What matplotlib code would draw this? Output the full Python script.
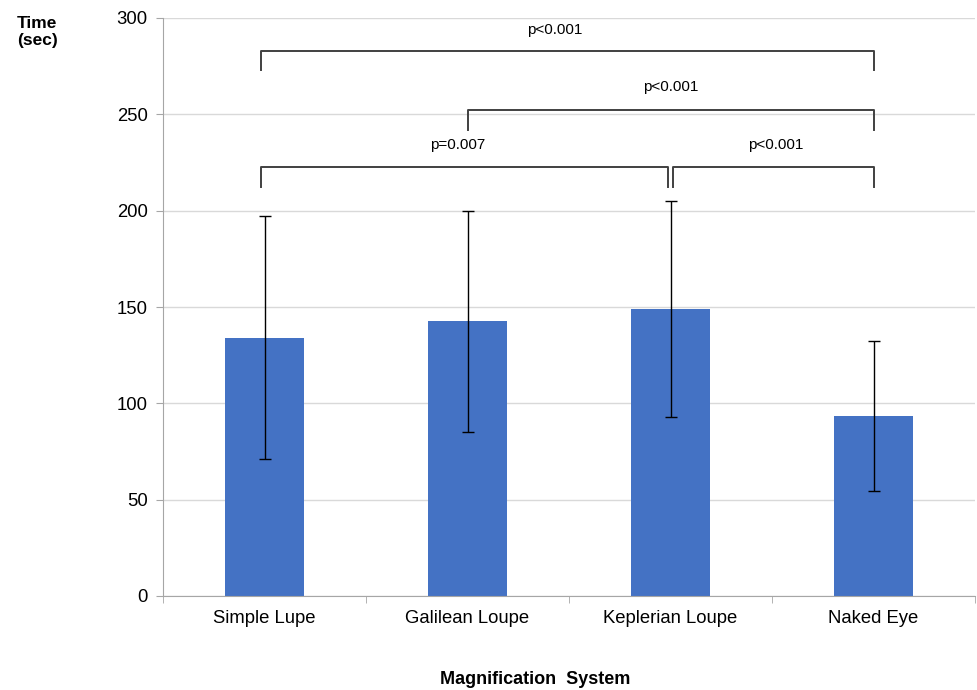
import matplotlib.pyplot as plt
import numpy as np

plt.rcParams['font.family'] = ['Liberation Sans', 'DejaVu Sans']

categorias = ["Simple Lupe", "Galilean Loupe", "Keplerian Loupe", "Naked Eye"]
media = [134, 142.5, 149, 93.5]
desvio = [63, 57.5, 56, 39]

# comparacoes: (grupo a, grupo b, nivel, texto)
comp_a = [0, 1, 0, 2]
comp_b = [3, 3, 2, 3]
comp_y = [283, 252, 222.5, 222.5]
comp_txt = ["p<0.001", "p<0.001", "p=0.007", "p<0.001"]

fig = plt.figure(figsize=(9.77, 6.90), dpi=100)
ax = fig.add_axes([163/977, 94/690, 812/977, 578/690])

x = np.arange(len(categorias))
ax.bar(x, media, width=0.39, color='#4472C4', zorder=2)
ax.errorbar(x, media, yerr=desvio, fmt='none', ecolor='black', elinewidth=1,
            capsize=4, capthick=1, zorder=3)

ax.set_xlim(-0.5, 3.5)
ax.set_ylim(0, 300)
ax.set_yticks(np.arange(0, 301, 50))
ax.yaxis.grid(True, color='#d9d9d9', linewidth=1, zorder=0)
ax.set_axisbelow(True)

ax.set_xticks(x)
ax.set_xticklabels(categorias, fontsize=13.3)
ax.set_xticks(np.arange(-0.5, 4, 1), minor=True)
ax.tick_params(axis='x', which='major', length=0, pad=10)
ax.tick_params(axis='x', which='minor', length=5, color='#a6a6a6')
ax.tick_params(axis='y', length=5, color='#a6a6a6', labelsize=13.3, pad=6)

for s in ['top', 'right']:
    ax.spines[s].set_visible(False)
for s in ['left', 'bottom']:
    ax.spines[s].set_color('#a6a6a6')

off = 0.01
for a, b, yy, t in zip(comp_a, comp_b, comp_y, comp_txt):
    xa = a - 0.015 if a == 0 else a
    xb = b
    if a == 2:
        xa = a + off
    if a == 0 and b == 2:
        xb = b - off
    ax.plot([xa, xa, xb, xb], [yy - 10, yy, yy, yy - 10], color='#404040',
            linewidth=1.4, zorder=4, solid_joinstyle='round')

ax.text(1.43, 294, comp_txt[0], ha='center', va='center', fontsize=11)
ax.text(2.0, 264, comp_txt[1], ha='center', va='center', fontsize=11)
ax.text(0.95, 234, comp_txt[2], ha='center', va='center', fontsize=11)
ax.text(2.52, 234, comp_txt[3], ha='center', va='center', fontsize=11)

fig.text(440/977, 1 - 679/690, "Magnification  System", ha='left', va='center',
         fontsize=13, fontweight='bold')
fig.text(17/977, 1 - 32/690, "Time\n(sec)", ha='left', va='center',
         fontsize=12.5, fontweight='bold', linespacing=1.1)

fig.savefig('out.png', dpi=100)
